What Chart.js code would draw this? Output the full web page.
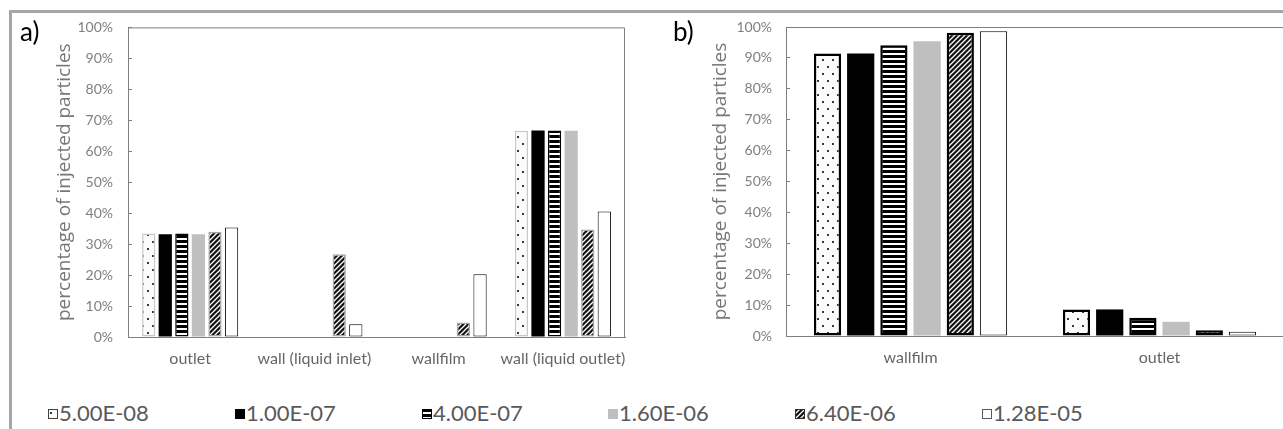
<!DOCTYPE html>
<html>
<head>
<meta charset="utf-8">
<script src="https://cdn.jsdelivr.net/npm/chart.js@4.4.1/dist/chart.umd.min.js"></script>
<style>
  html, body { margin: 0; padding: 0; background: #fff; overflow: hidden; }
  body { width: 1283px; height: 429px; position: relative; }
  #frame { position: absolute; left: 9px; top: 10px; width: 1300px; height: 450px;
           border-top: 3px solid #a6a6a6; border-left: 3px solid #a6a6a6; }
  canvas.chart { position: absolute; top: 0; }
  .tag { position: absolute; font-family: Lato; font-size: 26px; line-height: 26px; color: #000; }
  .leg { position: absolute; top: 402px; font-family: Lato; font-size: 22px; line-height: 22px;
         color: #595959; white-space: nowrap; }
  .sw { position: absolute; top: 409px; }
</style>
</head>
<body>
<div id="frame"></div>
<canvas id="panelA" class="chart" width="640" height="395" style="left:0px"></canvas>
<canvas id="panelB" class="chart" width="660" height="394" style="left:640px"></canvas>
<div class="tag" style="left:20px; top:18px">a)</div>
<div class="tag" style="left:673px; top:18px">b)</div>
<div id="legend"></div>
<script>
// categories
const panelACategories = ["outlet", "wall (liquid inlet)", "wallfilm", "wall (liquid outlet)"];
const panelBCategories = ["wallfilm", "outlet"];
const seriesLabels = ["5.00E-08", "1.00E-07", "4.00E-07", "1.60E-06", "6.40E-06", "1.28E-05"];

// panel a values (% of injected particles), one array per series
const panelA_5_00E08 = [33.4, 0, 0, 66.6];
const panelA_1_00E07 = [33.2, 0, 0, 66.7];
const panelA_4_00E07 = [33.4, 0, 0, 66.7];
const panelA_1_60E06 = [33.2, 0, 0, 66.6];
const panelA_6_40E06 = [34.0, 26.7, 4.7, 34.7];
const panelA_1_28E05 = [35.4, 4.1, 20.3, 40.5];

// panel b values
const panelB_5_00E08 = [91.4, 8.6];
const panelB_1_00E07 = [91.4, 8.6];
const panelB_4_00E07 = [94.1, 5.9];
const panelB_1_60E06 = [95.4, 4.6];
const panelB_6_40E06 = [98.1, 1.9];
const panelB_1_28E05 = [98.6, 1.4];

const yTicks = [0, 10, 20, 30, 40, 50, 60, 70, 80, 90, 100];
const yTitle = "percentage of injected particles";

// fill patterns
function makeTile(w, h, draw) {
	let c = document.createElement("canvas");
	c.width = w;
	c.height = h;
	draw(c.getContext("2d"), w, h);
	return c;
}

const dotTile = makeTile(10, 14, (g, w, h) => {
	g.fillStyle = "#fbfbfb";
	g.fillRect(0, 0, w, h);
	g.fillStyle = "#3a3a3a";
	g.fillRect(2, 3, 2, 2);
	g.fillRect(7, 10, 2, 2);
});
const stripeTile = makeTile(4, 5, (g, w, h) => {
	g.fillStyle = "#fff";
	g.fillRect(0, 0, w, h);
	g.fillStyle = "#000";
	g.fillRect(0, 0, w, 3);
});
const hatchTile = makeTile(5, 5, (g, w, h) => {
	g.fillStyle = "#111";
	g.fillRect(0, 0, w, h);
	g.strokeStyle = "#fff";
	g.lineWidth = 1.3;
	g.beginPath();
	g.moveTo(0, 5); g.lineTo(5, 0);
	g.moveTo(-2.5, 2.5); g.lineTo(2.5, -2.5);
	g.moveTo(2.5, 7.5); g.lineTo(7.5, 2.5);
	g.stroke();
});

const patCtx = document.createElement("canvas").getContext("2d");
const dots = patCtx.createPattern(dotTile, "repeat");
const stripes = patCtx.createPattern(stripeTile, "repeat");
const hatch = patCtx.createPattern(hatchTile, "repeat");

const fills = [dots, "#000000", stripes, "#bfbfbf", hatch, "#ffffff"];
const bordersA = [["#c8c8c8", 1.5], ["#000", 0], ["#000", 1.5], ["#bfbfbf", 0], ["#a6a6a6", 1.5], ["#000", 1]];
const bordersB = [["#000", 2.5], ["#000", 0], ["#000", 2.5], ["#bfbfbf", 0], ["#000", 2.5], ["#000", 1]];

function buildDatasets(series, borders, barPct) {
	return series.map((values, i) => ({
		label: seriesLabels[i],
		data: values,
		backgroundColor: fills[i],
		borderColor: borders[i][0],
		borderWidth: borders[i][1],
		borderSkipped: false,
		categoryPercentage: 0.8,
		barPercentage: barPct
	}));
}

// top and right edge of the plot box
const plotFrame = {
	id: "plotFrame",
	afterDatasetsDraw(chart) {
		let {ctx, chartArea} = chart;
		ctx.save();
		ctx.strokeStyle = "#7f7f7f";
		ctx.lineWidth = 1;
		ctx.beginPath();
		ctx.moveTo(chartArea.left, chartArea.top + 0.5);
		ctx.lineTo(chartArea.right - 0.5, chartArea.top + 0.5);
		ctx.lineTo(chartArea.right - 0.5, chartArea.bottom);
		ctx.stroke();
		ctx.restore();
	}
};

function makeOptions(axisWidth, titlePad, tickPad, padding) {
	return {
		responsive: false,
		animation: false,
		layout: { padding: padding },
		plugins: { legend: { display: false }, tooltip: { enabled: false } },
		scales: {
			x: {
				ticks: { color: "#666", font: { family: "Lato", size: 16 }, padding: 12, maxRotation: 0, autoSkip: false },
				grid: { display: false, drawTicks: false },
				border: { display: true, color: "#7f7f7f", width: 1 },
				afterFit: (axis) => { axis.height = 58; }
			},
			y: {
				min: yTicks[0],
				max: yTicks[yTicks.length - 1],
				afterBuildTicks: (axis) => { axis.ticks = yTicks.map(v => ({ value: v })); },
				ticks: {
					color: "#7f7f7f",
					font: { family: "Lato", size: 14 },
					padding: tickPad,
					callback: (v) => v + "%"
				},
				grid: { drawOnChartArea: false, tickLength: -4, color: "#7f7f7f" },
				border: { display: true, color: "#7f7f7f", width: 1 },
				title: {
					display: true,
					text: yTitle,
					color: "#777",
					font: { family: "Open Sans", size: 19 },
					padding: { top: titlePad, bottom: 0 }
				},
				afterFit: (axis) => { axis.width = axisWidth; }
			}
		}
	};
}

new Chart(document.getElementById("panelA"), {
	type: "bar",
	data: {
		labels: panelACategories,
		datasets: buildDatasets([panelA_5_00E08, panelA_1_00E07, panelA_4_00E07, panelA_1_60E06, panelA_6_40E06, panelA_1_28E05], bordersA, 0.8)
	},
	options: makeOptions(128, 53, 19, { top: 26, right: 15, left: 0, bottom: 0 }),
	plugins: [plotFrame]
});

new Chart(document.getElementById("panelB"), {
	type: "bar",
	data: {
		labels: panelBCategories,
		datasets: buildDatasets([panelB_5_00E08, panelB_1_00E07, panelB_4_00E07, panelB_1_60E06, panelB_6_40E06, panelB_1_28E05], bordersB, 0.82)
	},
	options: makeOptions(146, 69, 18, { top: 27, right: 16, left: 0, bottom: 0 }),
	plugins: [plotFrame]
});

// legend below both panels
const legendBorders = ["#404040", "#000", "#000", "#bfbfbf", "#333", "#595959"];
let legend = document.getElementById("legend");
seriesLabels.forEach((label, i) => {
	let x = 48 + i * 186.8;
	let sw = document.createElement("canvas");
	sw.className = "sw";
	sw.width = 10;
	sw.height = 10;
	sw.style.left = Math.round(x) + "px";
	let g = sw.getContext("2d");
	g.fillStyle = fills[i];
	g.fillRect(0, 0, 10, 10);
	g.strokeStyle = legendBorders[i];
	g.lineWidth = 1;
	g.strokeRect(0.5, 0.5, 9, 9);
	legend.append(sw);

	let text = document.createElement("div");
	text.className = "leg";
	text.style.left = Math.round(x + 11) + "px";
	text.textContent = label;
	legend.append(text);
});
</script>
</body>
</html>
